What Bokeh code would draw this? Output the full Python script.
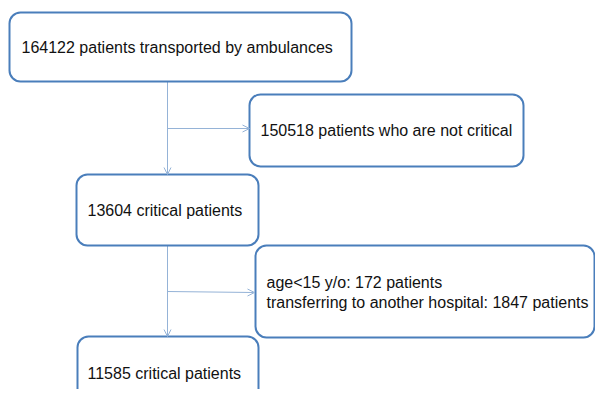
from bokeh.plotting import figure
from bokeh.models import Range1d, Arrow, OpenHead
from bokeh.core.properties import value
from bokeh.embed import file_html
from bokeh.resources import INLINE

# Data
total = 164122
not_critical = 150518
critical = 13604
age_under_15 = 172
transferred = 1847
final_critical = 11585

labels = [
    [f"{total} patients transported by ambulances"],
    [f"{not_critical} patients who are not critical"],
    [f"{critical} critical patients"],
    [f"age<15 y/o: {age_under_15} patients",
     f"transferring to another hospital: {transferred} patients"],
    [f"{final_critical} critical patients"],
]

# Layout (screen-pixel coordinates): left, right, top, bottom
box_left = [9, 249, 76, 255, 77]
box_right = [351, 523, 258, 594, 258]
box_top = [12, 94, 174, 245, 336]
box_bottom = [81, 166, 245, 337, 412]
text_x = [21, 260, 87, 266, 87]
text_y = [[47], [130], [210], [282, 302], [373]]

W, H = 595, 389
p = figure(width=W, height=H, output_backend="svg", toolbar_location=None,
           x_range=Range1d(0, W), y_range=Range1d(H, 0),
           min_border=0)
p.axis.visible = False
p.grid.visible = False
p.outline_line_color = None
p.background_fill_color = "white"

conn = "#95B3D7"
# connectors
p.segment(x0=[167, 167, 167, 167], y0=[81, 128, 245, 291],
          x1=[167, 248, 167, 253], y1=[173, 128, 336, 292],
          line_color=conn, line_width=1)
for (x0, y0, x1, y1) in [(167, 160, 167, 174), (230, 128, 249, 128),
                         (167, 320, 167, 336), (235, 292, 254, 292)]:
    p.add_layout(Arrow(x_start=x0, y_start=y0, x_end=x1, y_end=y1,
                       line_color=conn, line_width=1, line_alpha=0,
                       end=OpenHead(size=7, line_color=conn, line_width=1)))

p.quad(left=box_left, right=box_right, top=box_top, bottom=box_bottom,
       fill_color="white", line_color="#4A7EBB", line_width=2,
       border_radius=11)

xs, ys, ts = [], [], []
for lab, tx, tys in zip(labels, text_x, text_y):
    for line, ty in zip(lab, tys):
        xs.append(tx)
        ys.append(ty)
        ts.append(line)
p.text(x=xs, y=ys, text=ts, text_align="left", text_baseline="middle",
       text_font=value("Liberation Sans"), text_font_size="16px",
       text_color="#111111")

open("out.html", "w").write(file_html(p, INLINE))
